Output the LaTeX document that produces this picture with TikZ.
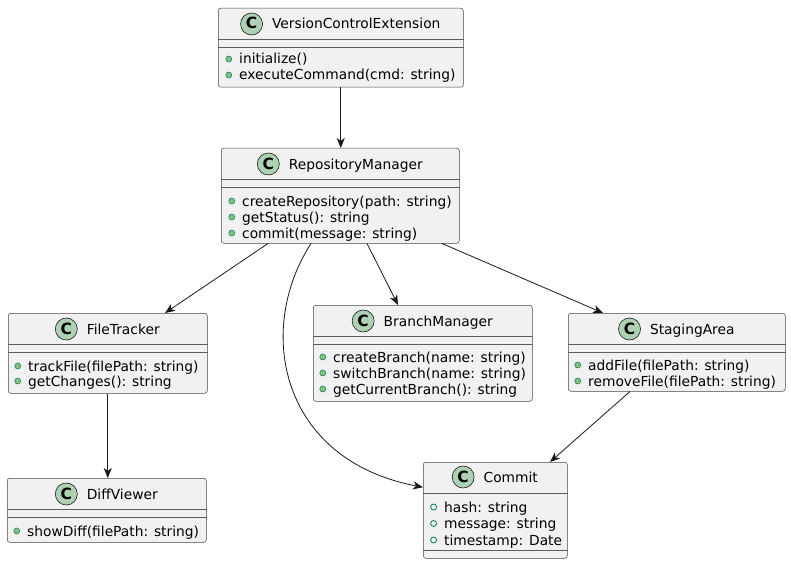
\documentclass[tikz,border=0pt]{standalone}
\usepackage{fontspec}
\setmainfont{DejaVu Sans}
\usetikzlibrary{arrows.meta, positioning, calc}

\definecolor{boxfill}{HTML}{F1F1F1}
\definecolor{lineclr}{HTML}{181818}
\definecolor{iconfill}{HTML}{ADD1B2}
\definecolor{dotfill}{HTML}{84BE84}
\definecolor{dotline}{HTML}{038048}

\begin{document}
\begin{tikzpicture}[
    x=1pt, y=-1pt,
    classbox/.style={rectangle, draw=lineclr!80, fill=boxfill, line width=0.5pt, rounded corners=2.5pt, anchor=north west, inner sep=0pt},
    icon/.style={circle, draw=lineclr, fill=iconfill, line width=0.6pt, minimum size=22pt, inner sep=0pt, text height=10pt, text depth=0pt, font=\fontsize{15.5}{15.5}\selectfont\bfseries},
    classname/.style={inner sep=0pt, text height=10pt, text depth=0pt, font=\fontsize{13.8}{16}\selectfont},
    member/.style={anchor=west, inner sep=0pt, text height=10pt, text depth=0pt, font=\fontsize{13.8}{16}\selectfont},
    method/.style={member, label={[methoddot, label distance=7pt]left:{}}},
    field/.style={member, label={[fielddot, label distance=7pt]left:{}}},
    methoddot/.style={circle, draw=dotline, fill=dotfill, line width=0.5pt, minimum size=6pt, inner sep=0pt, text height=0pt, text depth=0pt},
    fielddot/.style={circle, draw=dotline, line width=0.8pt, minimum size=6pt, inner sep=0pt, text height=0pt, text depth=0pt},
    sepline/.style={draw=lineclr!70, line width=0.4pt},
    arrow/.style={-{Stealth[length=10pt, width=8pt, inset=3pt]}, draw=lineclr, line width=0.8pt}
]
\useasboundingbox (0,0) rectangle (791,564);

% VersionControlExtension
\node[classbox, minimum width=245pt, minimum height=79pt] (vce) at (218,8) {};
\node[classname] (vce-name) at ($(vce.north)+(15.5,16)$) {VersionControlExtension};
\node[icon, left=9pt of vce-name] (vce-icon) {C};
\draw[sepline] ($(vce.north west)+(0,31)$) -- ($(vce.north east)+(0,31)$);
\draw[sepline] ($(vce.north west)+(0,39)$) -- ($(vce.north east)+(0,39)$);
\node[method] (vce-m1) at ($(vce.north west)+(21,51)$) {initialize()};
\node[method] (vce-m2) at ($(vce.north west)+(21,67)$) {executeCommand(cmd: string)};

% RepositoryManager
\node[classbox, minimum width=238pt, minimum height=95pt] (repo) at (221,148) {};
\node[classname] (repo-name) at ($(repo.north)+(15.5,16)$) {RepositoryManager};
\node[icon, left=9pt of repo-name] (repo-icon) {C};
\draw[sepline] ($(repo.north west)+(0,31)$) -- ($(repo.north east)+(0,31)$);
\draw[sepline] ($(repo.north west)+(0,39)$) -- ($(repo.north east)+(0,39)$);
\node[method] (repo-m1) at ($(repo.north west)+(21,53)$) {createRepository(path: string)};
\node[method] (repo-m2) at ($(repo.north west)+(21,69)$) {getStatus(): string};
\node[method] (repo-m3) at ($(repo.north west)+(21,85)$) {commit(message: string)};

% FileTracker
\node[classbox, minimum width=199pt, minimum height=80pt] (tracker) at (8,313) {};
\node[classname] (tracker-name) at ($(tracker.north)+(15.5,16)$) {FileTracker};
\node[icon, left=9pt of tracker-name] (tracker-icon) {C};
\draw[sepline] ($(tracker.north west)+(0,31)$) -- ($(tracker.north east)+(0,31)$);
\draw[sepline] ($(tracker.north west)+(0,39)$) -- ($(tracker.north east)+(0,39)$);
\node[method] (tracker-m1) at ($(tracker.north west)+(20,53)$) {trackFile(filePath: string)};
\node[method] (tracker-m2) at ($(tracker.north west)+(20,68)$) {getChanges(): string};

% BranchManager
\node[classbox, minimum width=219pt, minimum height=96pt] (branch) at (313,305) {};
\node[classname] (branch-name) at ($(branch.north)+(15.5,16)$) {BranchManager};
\node[icon, left=9pt of branch-name] (branch-icon) {C};
\draw[sepline] ($(branch.north west)+(0,31)$) -- ($(branch.north east)+(0,31)$);
\draw[sepline] ($(branch.north west)+(0,39)$) -- ($(branch.north east)+(0,39)$);
\node[method] (branch-m1) at ($(branch.north west)+(20,52)$) {createBranch(name: string)};
\node[method] (branch-m2) at ($(branch.north west)+(20,68)$) {switchBranch(name: string)};
\node[method] (branch-m3) at ($(branch.north west)+(20,84)$) {getCurrentBranch(): string};

% StagingArea
\node[classbox, minimum width=217pt, minimum height=78pt] (staging) at (568,313) {};
\node[classname] (staging-name) at ($(staging.north)+(15.5,16)$) {StagingArea};
\node[icon, left=9pt of staging-name] (staging-icon) {C};
\draw[sepline] ($(staging.north west)+(0,31)$) -- ($(staging.north east)+(0,31)$);
\draw[sepline] ($(staging.north west)+(0,39)$) -- ($(staging.north east)+(0,39)$);
\node[method] (staging-m1) at ($(staging.north west)+(20,52)$) {addFile(filePath: string)};
\node[method] (staging-m2) at ($(staging.north west)+(20,68)$) {removeFile(filePath: string)};

% DiffViewer
\node[classbox, minimum width=199pt, minimum height=64pt] (diff) at (7,478) {};
\node[classname] (diff-name) at ($(diff.north)+(15.5,16)$) {DiffViewer};
\node[icon, left=9pt of diff-name] (diff-icon) {C};
\draw[sepline] ($(diff.north west)+(0,31)$) -- ($(diff.north east)+(0,31)$);
\draw[sepline] ($(diff.north west)+(0,39)$) -- ($(diff.north east)+(0,39)$);
\node[method] (diff-m1) at ($(diff.north west)+(20,53)$) {showDiff(filePath: string)};

% Commit (fields only)
\node[classbox, minimum width=144pt, minimum height=96pt] (commit) at (423,462) {};
\node[classname] (commit-name) at ($(commit.north)+(15.5,15)$) {Commit};
\node[icon, left=9pt of commit-name] (commit-icon) {C};
\draw[sepline] ($(commit.north west)+(0,31)$) -- ($(commit.north east)+(0,31)$);
\node[field] (commit-f1) at ($(commit.north west)+(21,45)$) {hash: string};
\node[field] (commit-f2) at ($(commit.north west)+(21,61.5)$) {message: string};
\node[field] (commit-f3) at ($(commit.north west)+(21,78)$) {timestamp: Date};
\draw[sepline] ($(commit.north west)+(0,88)$) -- ($(commit.north east)+(0,88)$);

% ARROWS
\draw[arrow] (vce.south) -- (vce.south |- repo.north);
\draw[arrow] ([xshift=47pt]repo.south west) -- ([xshift=157pt]tracker.north west);
\draw[arrow] ([xshift=90pt]repo.south west) .. controls (255,330) and (280,460) .. ([yshift=23pt]commit.west);
\draw[arrow] ([xshift=146pt]repo.south west) -- ([xshift=85pt]branch.north west);
\draw[arrow] ([xshift=221pt]repo.south west) -- ([xshift=35pt]staging.north west);
\draw[arrow] (tracker.south) -- (tracker.south |- diff.north);
\draw[arrow] ([xshift=62pt]staging.south west) -- ([xshift=127pt]commit.north west);

\end{tikzpicture}
\end{document}
